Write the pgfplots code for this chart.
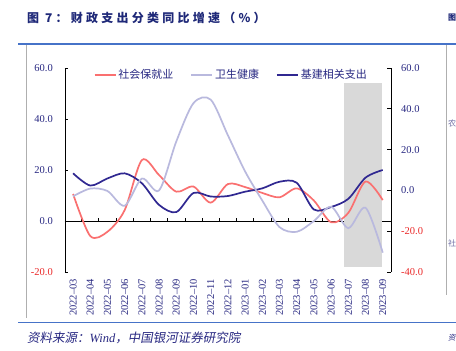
\documentclass[border=0pt]{standalone}
\usepackage{fontspec}
\setmainfont{Liberation Serif}
\newfontfamily\cjk{Noto Sans CJK SC}
\newfontfamily\cjksl{Noto Sans CJK SC}[FakeSlant=0.18]
\newfontfamily\cjktitle{Noto Sans CJK SC}[LetterSpace=27]
\usepackage{pgfplots}
\pgfplotsset{compat=1.18}
\definecolor{redline}{RGB}{250,112,112}
\definecolor{healthline}{RGB}{185,185,222}
\definecolor{navyline}{RGB}{48,40,145}
\definecolor{labelblue}{RGB}{40,40,130}
\definecolor{negred}{RGB}{235,40,40}
\definecolor{titleblue}{RGB}{30,40,120}
\definecolor{ruleblue}{RGB}{70,115,200}
\definecolor{framegray}{RGB}{175,175,175}
\definecolor{shade}{RGB}{217,217,217}
\definecolor{sidegray}{RGB}{110,110,165}
\begin{document}
\begin{tikzpicture}[x=1pt,y=1pt]
\path[use as bounding box] (0,0) rectangle (456,-351);
\fill[white] (0,0) rectangle (456,-351);
\draw[ruleblue, line width=2pt] (18,-43.5) -- (456,-43.5);
\draw[ruleblue, line width=1.8pt] (18,-322.5) -- (456,-322.5);
\draw[framegray, line width=0.8pt] (26.7,-45) -- (26.7,-318);
\draw[framegray, line width=0.8pt] (446.7,-45) -- (446.7,-295);
\node[anchor=west, inner sep=0pt, text=titleblue] at (27,-18) {\cjktitle\bfseries\fontsize{12}{14}\selectfont 图 7：财政支出分类同比增速（\%）};
\node[anchor=west, inner sep=0pt, text=titleblue] at (447.8,-18) {\cjk\bfseries\fontsize{8}{10}\selectfont 图};
\node[anchor=west, inner sep=0pt, text=sidegray] at (447.8,-123.5) {\cjk\fontsize{8}{10}\selectfont 农};
\node[anchor=west, inner sep=0pt, text=sidegray] at (447.8,-243) {\cjk\fontsize{8}{10}\selectfont 社};
\node[anchor=west, inner sep=0pt, text=labelblue] at (27,-337.5) {\fontsize{12.5}{14}\selectfont{\cjksl 资料来源：}{\itshape Wind}{\cjksl ，中国银河证券研究院}};
\node[anchor=west, inner sep=0pt, text=labelblue] at (447.8,-337.5) {\fontsize{7.5}{9}\selectfont\cjksl 资};

% left axis
\begin{axis}[
  at={(65pt,-272pt)}, anchor=south west,
  scale only axis, width=326pt, height=204pt,
  xmin=-0.47, xmax=18.48, ymin=-20, ymax=60,
  axis y line*=left, axis x line*=middle,
  hide obscured x ticks=false, hide obscured y ticks=false,
  xtick={0.5,1.5,...,17.5}, xticklabels={},
  ytick={-20,0,20,40,60},
  yticklabels={\textcolor{negred}{-20.0},0.0,20.0,40.0,60.0},
  tick align=inside, major tick length=3.5pt,
  axis line style={black, line width=0.9pt},
  tick style={black, line width=0.8pt},
  yticklabel style={font=\fontsize{10.5}{12}\selectfont, text=labelblue, inner sep=0pt},
  yticklabel shift=12pt,
  legend columns=3,
  legend style={draw=none, fill=none, inner sep=0pt, outer sep=0pt,
    at={(axis description cs:0.088,0.966)}, anchor=west,
    font={\cjk\fontsize{11}{13}\selectfont\color{labelblue}},
    /tikz/every odd column/.append style={column sep=0pt},
    /tikz/every even column/.append style={column sep=15pt}},
  legend image code/.code={\draw[#1] (0pt,0pt) -- (21pt,0pt);},
]
\addplot[fill=shade, draw=none, forget plot] coordinates {(15.76,-17.9) (17.95,-17.9) (17.95,54.1) (15.76,54.1)} -- cycle;
\addplot[redline, line width=1.7pt, smooth, tension=0.5] coordinates {
(0,10.6) (1,-5.9) (2,-4.2) (3,4.3) (4,23.9) (5,18.0) (6,11.5) (7,13.5) (8,7.2) (9,14.5)
(10,13.3) (11,11.0) (12,9.3) (13,12.8) (14,8.0) (15,-0.5) (16,3.2) (17,15.5) (18,8.2)};
\addlegendentry{社会保就业}
\addlegendimage{healthline, line width=1.7pt}
\addlegendentry{卫生健康}
\addplot[navyline, line width=1.7pt, smooth, tension=0.5] coordinates {
(0,18.7) (1,13.9) (2,16.7) (3,18.7) (4,14.8) (5,6.3) (6,3.5) (7,11.0) (8,9.6) (9,9.8)
(10,11.5) (11,12.8) (12,15.4) (13,15.0) (14,4.5) (15,5.5) (16,8.7) (17,17.0) (18,20.0)};
\addlegendentry{基建相关支出}
\end{axis}

% right axis
\begin{axis}[
  at={(65pt,-272pt)}, anchor=south west,
  scale only axis, width=326pt, height=204pt,
  xmin=-0.47, xmax=18.48, ymin=-40, ymax=60,
  axis y line*=right, axis x line=none,
  ytick={-40,-20,0,20,40,60},
  yticklabels={\textcolor{negred}{-40.0},\textcolor{negred}{-20.0},0.0,20.0,40.0,60.0},
  tick align=inside, major tick length=3.5pt,
  axis line style={black, line width=0.9pt},
  tick style={black, line width=0.8pt},
  yticklabel style={font=\fontsize{10.5}{12}\selectfont, text=labelblue, inner sep=0pt},
  yticklabel shift=10pt,
]
\addplot[healthline, line width=1.7pt, smooth, tension=0.5] coordinates {
(0,-2.9) (1,0.9) (2,-0.3) (3,-7.5) (4,5.8) (5,0.0) (6,24.0) (7,42.8) (8,44.5) (9,27.0)
(10,9.3) (11,-5.0) (12,-18.0) (13,-20.3) (14,-15.0) (15,-8.0) (16,-18.5) (17,-8.5) (18,-30.5)};
\end{axis}

% category labels
\begin{axis}[
  at={(65pt,-272pt)}, anchor=south west,
  scale only axis, width=326pt, height=204pt,
  xmin=-0.47, xmax=18.48, ymin=0, ymax=1,
  axis line style={draw=none}, tick style={draw=none},
  major tick length=0pt, ytick=\empty,
  xtick={0,1,...,18},
  xticklabels={2022--03,2022--04,2022--05,2022--06,2022--07,2022--08,2022--09,2022--10,2022--11,2022--12,2023--01,2023--02,2023--03,2023--04,2023--05,2023--06,2023--07,2023--08,2023--09},
  xticklabel style={rotate=90, anchor=east, inner sep=0pt, font=\fontsize{10.5}{12}\selectfont, text=labelblue},
  xticklabel shift=7pt,
]
\end{axis}
\end{tikzpicture}
\end{document}
